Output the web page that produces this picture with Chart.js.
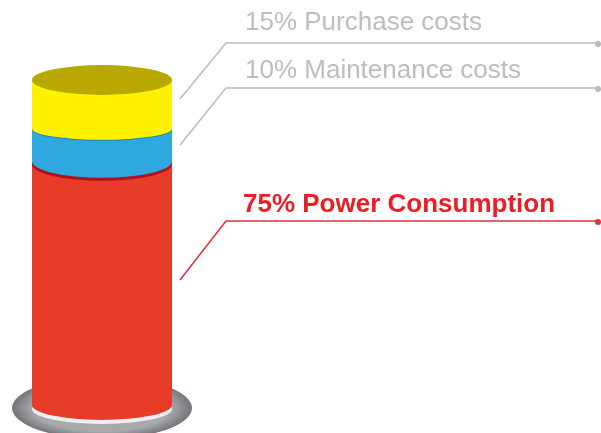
<!DOCTYPE html>
<html>
<head>
<meta charset="utf-8">
<title>Cost breakdown</title>
<script src="https://cdn.jsdelivr.net/npm/chart.js@4"></script>
<style>
	html, body { margin: 0; padding: 0; background: #fff; overflow: hidden; }
	canvas { display: block; }
</style>
</head>
<body>
<canvas id="costChart" width="601" height="433"></canvas>
<script>
// Share of each cost, from the bottom of the cylinder up
var categories = ['Power Consumption', 'Maintenance costs', 'Purchase costs'];
var shares = [75, 10, 15];
var sideColors = ['#e63c28', '#2ea9df', '#fff200'];

// Fill an ellipse centred on the bar at a given height
function ellipse(ctx, cx, cy, rx, ry, fill) {
	ctx.beginPath();
	ctx.ellipse(cx, cy, rx, ry, 0, 0, Math.PI * 2);
	ctx.fillStyle = fill;
	ctx.fill();
}

// Stand under the cylinder
var basePlugin = {
	id: 'cylinderBase',
	beforeDatasetsDraw: function (chart) {
		var ctx = chart.ctx;
		var area = chart.chartArea;
		var cx = (area.left + area.right) / 2;
		var rx = (area.right - area.left) / 2;

		ctx.save();
		ctx.translate(cx, area.bottom + 3);
		ctx.scale(1, 31 / 90);
		var grad = ctx.createRadialGradient(0, 0, 68, 0, 0, 90);
		grad.addColorStop(0, '#a9aaac');
		grad.addColorStop(1, '#727578');
		ctx.beginPath();
		ctx.arc(0, 0, 90, 0, Math.PI * 2);
		ctx.fillStyle = grad;
		ctx.fill();
		ctx.restore();

		ellipse(ctx, cx, area.bottom + 4, rx, 15, '#f1eff2');
		ellipse(ctx, cx, area.bottom, rx, 15, sideColors[0]);
	}
};

// Curved joints and the top face, placed through the y scale
var capsPlugin = {
	id: 'cylinderCaps',
	afterDatasetsDraw: function (chart) {
		var ctx = chart.ctx;
		var area = chart.chartArea;
		var y = chart.scales.y;
		var cx = (area.left + area.right) / 2;
		var rx = (area.right - area.left) / 2;
		var redTop = y.getPixelForValue(shares[0]);
		var blueTop = y.getPixelForValue(shares[0] + shares[1]);

		ellipse(ctx, cx, redTop + 3, rx, 16.5, '#b3101f');
		ellipse(ctx, cx, redTop, rx, 16.5, sideColors[1]);
		ellipse(ctx, cx, blueTop + 1, rx, 11, '#1c8aa0');
		ellipse(ctx, cx, blueTop, rx, 11, sideColors[2]);
		ellipse(ctx, cx, area.top, rx, 15, '#b8a800');
	}
};

// Leader lines and their labels
var calloutPlugin = {
	id: 'callouts',
	afterDraw: function (chart) {
		var ctx = chart.ctx;
		var right = chart.chartArea.right;
		var callouts = [
			{ index: 2, from: 99, to: 43, left: 245, base: 30, color: '#bcbcbc', text: '#bdbdbd', font: '26px "Liberation Sans"' },
			{ index: 1, from: 145, to: 88, left: 245, base: 78, color: '#bcbcbc', text: '#bdbdbd', font: '26px "Liberation Sans"' },
			{ index: 0, from: 280, to: 221, left: 243, base: 212, color: '#e0303a', text: '#f01c24', font: 'bold 26px "Liberation Sans"' }
		];

		callouts.forEach(function (c) {
			ctx.beginPath();
			ctx.moveTo(right + 8, c.from);
			ctx.lineTo(right + 54, c.to);
			ctx.lineTo(598, c.to);
			ctx.strokeStyle = c.color;
			ctx.lineWidth = 1.5;
			ctx.stroke();
			ellipse(ctx, 598, c.to + 1, 3, 3, c.color);

			ctx.font = c.font;
			ctx.fillStyle = c.text;
			ctx.textBaseline = 'alphabetic';
			ctx.fillText(shares[c.index] + '% ' + categories[c.index], c.left, c.base);
		});
	}
};

var costCtx = document.getElementById('costChart').getContext('2d');
var costChart = new Chart(costCtx, {
	type: 'bar',
	data: {
		labels: ['Total cost'],
		datasets: categories.map(function (name, i) {
			return {
				label: name,
				data: [shares[i]],
				backgroundColor: sideColors[i],
				borderWidth: 0,
				barPercentage: 1,
				categoryPercentage: 1
			};
		})
	},
	options: {
		responsive: false,
		animation: false,
		layout: { padding: { left: 32, right: 429, top: 80, bottom: 28 } },
		plugins: { legend: { display: false }, tooltip: { enabled: false } },
		scales: {
			x: { stacked: true, display: false },
			y: { stacked: true, display: false, min: 0, max: 100 }
		}
	},
	plugins: [basePlugin, capsPlugin, calloutPlugin]
});
</script>
</body>
</html>
